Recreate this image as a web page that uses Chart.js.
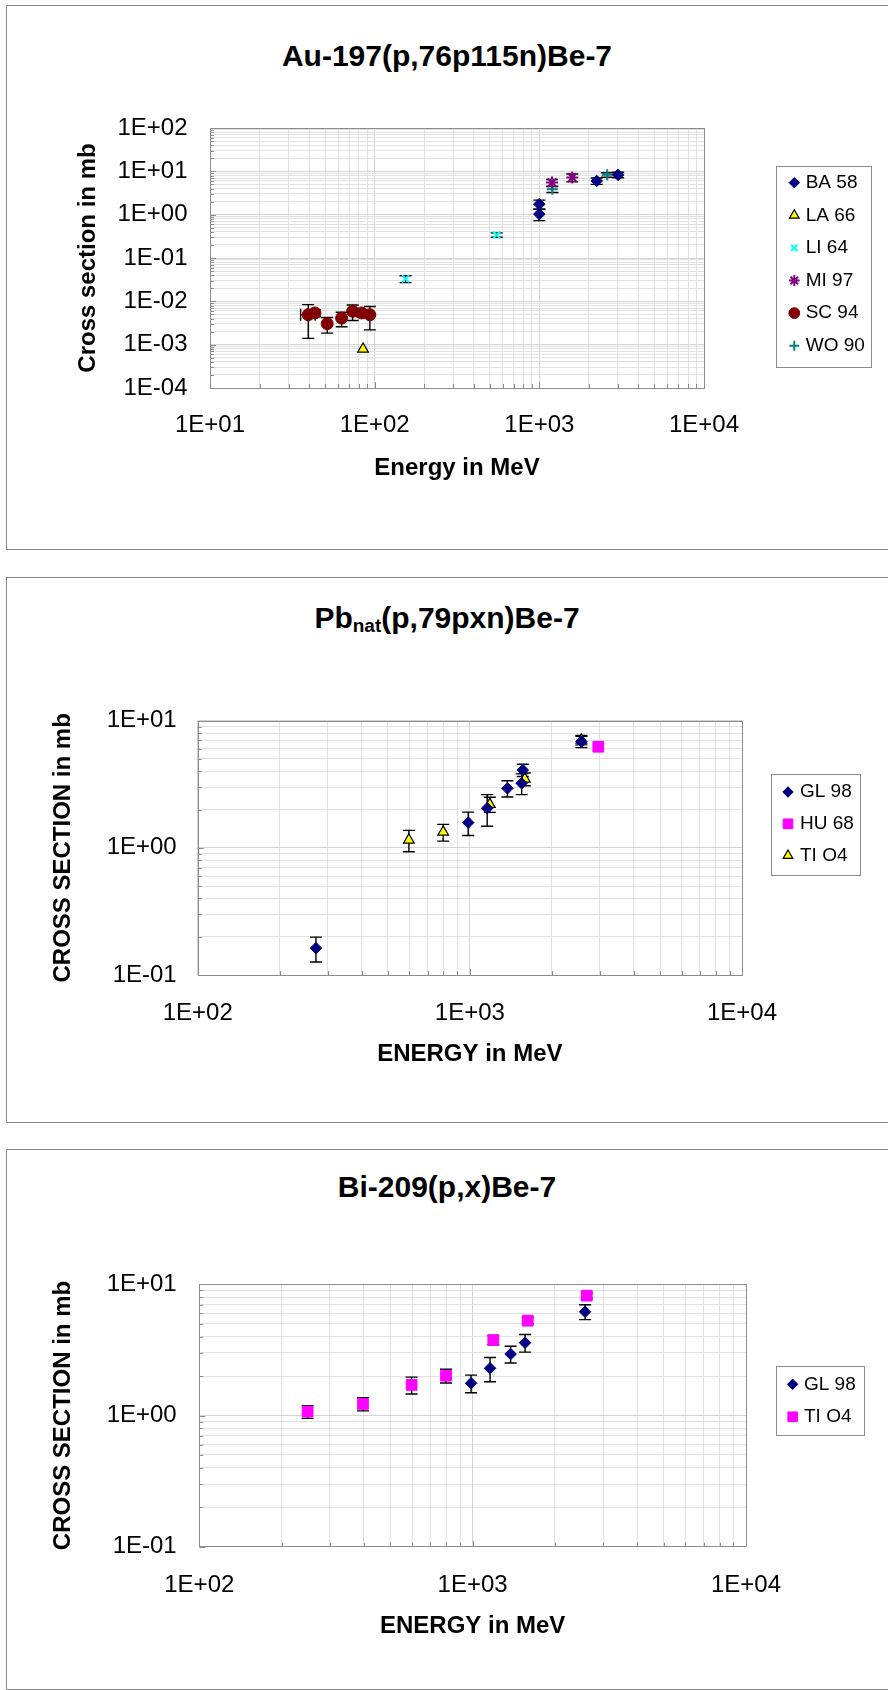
<!DOCTYPE html>
<html>
<head>
<meta charset="utf-8">
<script src="https://cdn.jsdelivr.net/npm/chart.js@4/dist/chart.umd.min.js"></script>
<style>
  body { margin: 0; width: 888px; height: 1690px; position: relative; overflow: hidden; background: #fff; font-family: "Liberation Sans", Arial, sans-serif; }
  .box { position: absolute; left: 6px; width: 900px; border: 1px solid #8a8a8a; box-sizing: border-box; }
  .title { position: absolute; left: 0; width: 894px; text-align: center; font-weight: bold; font-size: 30px; line-height: 30px; color: #000; white-space: nowrap; }
  .title sub { font-size: 19px; line-height: 0; vertical-align: -4px; }
  canvas { position: absolute; left: 0; }
</style>
</head>
<body>
<div class="box" style="top:5px;height:545px"></div>
<div class="box" style="top:577px;height:546px"></div>
<div class="box" style="top:1149px;height:541px"></div>

<div class="title" style="top:41px">Au-197(p,76p115n)Be-7</div>
<div class="title" style="top:603px">Pb<sub>nat</sub>(p,79pxn)Be-7</div>
<div class="title" style="top:1172px">Bi-209(p,x)Be-7</div>

<canvas id="auChart" width="888" height="555" style="top:0;width:888px;height:555px"></canvas>
<canvas id="pbChart" width="888" height="565" style="top:560px;width:888px;height:565px"></canvas>
<canvas id="biChart" width="888" height="560" style="top:1130px;width:888px;height:560px"></canvas>

<script>
// ---- Au-197(p,76p115n)Be-7 ----
const auXTicks = [1e1, 1e2, 1e3, 1e4];
const auXLabels = ['1E+01', '1E+02', '1E+03', '1E+04'];
const auYTicks = [1e-4, 1e-3, 1e-2, 1e-1, 1e0, 1e1, 1e2];
const auYLabels = ['1E-04', '1E-03', '1E-02', '1E-01', '1E+00', '1E+01', '1E+02'];

const ba58Energy = [1000, 1000, 2230, 3010];
const ba58Sigma = [1.75, 1.03, 6.0, 8.3];
const ba58Err = [0.42, 0.3, 1.0, 1.2];

const la66Energy = [85];
const la66Sigma = [0.00079];

const li64Energy = [154, 551];
const li64Sigma = [0.033, 0.34];
const li64Err = [0.006, 0.04];

const mi97Energy = [1194, 1585];
const mi97Sigma = [5.5, 7.2];
const mi97Err = [1.0, 1.5];

const sc94Energy = [39.5, 43.4, 51.5, 63, 73.5, 83.4, 93.5];
const sc94Sigma = [0.0049, 0.0054, 0.00305, 0.0041, 0.0059, 0.0054, 0.0049];
const sc94Err = [0.0035, 0.001, 0.0012, 0.0015, 0.0023, 0.001, 0.0027];
const sc94EnergyErr = [4, 0, 0, 0, 0, 0, 0];

const wo90Energy = [1200, 2583];
const wo90Sigma = [3.86, 8.3];
const wo90Err = [0.6, 1.0];

// ---- Pb-nat(p,79pxn)Be-7 ----
const pbXTicks = [1e2, 1e3, 1e4];
const pbXLabels = ['1E+02', '1E+03', '1E+04'];
const pbYTicks = [1e-1, 1e0, 1e1];
const pbYLabels = ['1E-01', '1E+00', '1E+01'];

const pbGl98Energy = [272, 986, 1158, 1374, 1565, 1550, 2570];
const pbGl98Sigma = [0.1625, 1.58, 2.05, 2.94, 4.09, 3.22, 6.84];
const pbGl98Err = [0.036, 0.33, 0.57, 0.43, 0.45, 0.6, 0.7];

const pbHu68Energy = [2965];
const pbHu68Sigma = [6.24];

const pbTi04Energy = [597, 798, 1184, 1592, 2570];
const pbTi04Sigma = [1.153, 1.33, 2.2, 3.48, 7.05];
const pbTi04Err = [0.22, 0.2, 0.3, 0.4, 0.6];

// ---- Bi-209(p,x)Be-7 ----
const biXTicks = [1e2, 1e3, 1e4];
const biXLabels = ['1E+02', '1E+03', '1E+04'];
const biYTicks = [1e-1, 1e0, 1e1];
const biYLabels = ['1E-01', '1E+00', '1E+01'];

const biGl98Energy = [987, 1158, 1377, 1555, 2578];
const biGl98Sigma = [1.76, 2.29, 2.94, 3.59, 6.18];
const biGl98Err = [0.27, 0.48, 0.43, 0.55, 0.8];

const biTi04Energy = [249, 397, 598, 799, 1190, 1591, 2615];
const biTi04Sigma = [1.07, 1.224, 1.71, 2.01, 3.76, 5.28, 8.19];
const biTi04Err = [0.12, 0.14, 0.25, 0.24, 0.3, 0.3, 0.4];

const FONT = '"Liberation Sans", Arial, sans-serif';
const CAP = 6;

const MARK = {
  diamond: { pointStyle: 'rectRot', radius: 5.8, bg: '#000080', border: '#000080', bw: 1 },
  triangle: { pointStyle: 'triangle', radius: 6.2, bg: '#ffff00', border: '#000000', bw: 1.2 },
  xcross: { pointStyle: 'crossRot', radius: 5, bg: '#00ffff', border: '#00ffff', bw: 2 },
  star: { pointStyle: 'star', radius: 6, bg: '#800080', border: '#800080', bw: 2 },
  circle: { pointStyle: 'circle', radius: 6, bg: '#800000', border: '#800000', bw: 1 },
  plus: { pointStyle: 'cross', radius: 5.5, bg: '#008080', border: '#008080', bw: 2 },
  square: { pointStyle: 'rect', radius: 7.6, bg: '#ff00ff', border: '#ff00ff', bw: 1 }
};

function series(label, xs, ys, errs, mark, xErrs) {
  return {
    label: label,
    data: xs.map((x, i) => ({ x: x, y: ys[i] })),
    yErr: errs || null,
    xErr: xErrs || null,
    pointStyle: mark.pointStyle,
    pointRadius: mark.radius,
    pointHoverRadius: mark.radius,
    backgroundColor: mark.bg,
    borderColor: mark.border,
    pointBackgroundColor: mark.bg,
    pointBorderColor: mark.border,
    pointBorderWidth: mark.bw,
    borderWidth: mark.bw
  };
}

function logTicks(decades) {
  const out = [];
  for (let i = 0; i < decades.length - 1; i++) {
    out.push({ value: decades[i], major: true });
    for (let k = 2; k <= 9; k++) out.push({ value: decades[i] * k, major: false });
  }
  out.push({ value: decades[decades.length - 1], major: true });
  return out;
}

// plot frame + little inward tick marks like the spreadsheet original
const frame = {
  id: 'frame',
  beforeDatasetsDraw(chart) {
    const { ctx, chartArea: a, scales } = chart;
    ctx.save();
    ctx.strokeStyle = '#8c8c8c';
    ctx.lineWidth = 1;
    ctx.beginPath();
    scales.y.ticks.forEach(t => {
      const py = Math.round(scales.y.getPixelForValue(t.value)) + 0.5;
      ctx.moveTo(a.left, py); ctx.lineTo(a.left + (t.major ? 6 : 4), py);
    });
    scales.x.ticks.forEach(t => {
      const px = Math.round(scales.x.getPixelForValue(t.value)) + 0.5;
      ctx.moveTo(px, a.bottom); ctx.lineTo(px, a.bottom - (t.major ? 6 : 4));
    });
    ctx.stroke();
    ctx.strokeRect(Math.round(a.left) + 0.5, Math.round(a.top) + 0.5,
      Math.round(a.right - a.left), Math.round(a.bottom - a.top));
    ctx.restore();
  }
};

const errorBars = {
  id: 'errorBars',
  beforeDatasetsDraw(chart) {
    const { ctx, scales } = chart;
    const xs = scales.x, ys = scales.y;
    ctx.save();
    ctx.strokeStyle = '#000';
    ctx.lineWidth = 1.4;
    chart.data.datasets.forEach(ds => {
      ds.data.forEach((p, i) => {
        const px = xs.getPixelForValue(p.x);
        const py = ys.getPixelForValue(p.y);
        const e = ds.yErr && ds.yErr[i];
        if (e) {
          const t = ys.getPixelForValue(p.y + e);
          const b = ys.getPixelForValue(Math.max(p.y - e, ys.min));
          ctx.beginPath();
          ctx.moveTo(px, t); ctx.lineTo(px, b);
          ctx.moveTo(px - CAP, t); ctx.lineTo(px + CAP, t);
          ctx.moveTo(px - CAP, b); ctx.lineTo(px + CAP, b);
          ctx.stroke();
        }
        const h = ds.xErr && ds.xErr[i];
        if (h) {
          const l = xs.getPixelForValue(p.x - h);
          const r = xs.getPixelForValue(p.x + h);
          ctx.beginPath();
          ctx.moveTo(l, py); ctx.lineTo(r, py);
          ctx.moveTo(l, py - CAP); ctx.lineTo(l, py + CAP);
          ctx.moveTo(r, py - CAP); ctx.lineTo(r, py + CAP);
          ctx.stroke();
        }
      });
    });
    ctx.restore();
  }
};

// boxed legend to the right of the plot
const boxLegend = {
  id: 'boxLegend',
  afterDraw(chart, args, o) {
    const ctx = chart.ctx;
    ctx.save();
    ctx.fillStyle = '#fff';
    ctx.fillRect(o.left, o.top, o.right - o.left, o.bottom - o.top);
    ctx.strokeStyle = '#8c8c8c';
    ctx.lineWidth = 1;
    ctx.strokeRect(Math.round(o.left) + 0.5, Math.round(o.top) + 0.5,
      Math.round(o.right - o.left), Math.round(o.bottom - o.top));
    chart.data.datasets.forEach((ds, i) => {
      const y = o.firstRow + i * o.rowGap;
      ctx.fillStyle = ds.backgroundColor;
      ctx.strokeStyle = ds.borderColor;
      ctx.lineWidth = ds.pointBorderWidth;
      Chart.helpers.drawPoint(ctx, {
        pointStyle: ds.pointStyle, radius: ds.pointRadius * 0.9,
        borderWidth: ds.pointBorderWidth, rotation: 0
      }, o.markerX, y);
      ctx.fillStyle = '#000';
      ctx.font = '19px ' + FONT;
      ctx.textBaseline = 'middle';
      ctx.textAlign = 'left';
      ctx.fillText(ds.label, o.textX, y);
    });
    ctx.restore();
  }
};

function makeChart(id, datasets, g) {
  const gridColor = c => (c.tick && c.tick.major ? '#d4d4d4' : '#e2e2e2');
  return new Chart(document.getElementById(id), {
    type: 'scatter',
    data: { datasets: datasets },
    plugins: [frame, errorBars, boxLegend],
    options: {
      responsive: false,
      animation: false,
      events: [],
      layout: { padding: { left: 0, top: g.top, right: g.right, bottom: g.bottom } },
      plugins: {
        legend: { display: false },
        tooltip: { enabled: false },
        boxLegend: g.legend
      },
      scales: {
        x: {
          type: 'logarithmic',
          min: g.xTicks[0],
          max: g.xTicks[g.xTicks.length - 1],
          afterBuildTicks: s => { s.ticks = logTicks(g.xTicks); },
          afterFit: s => { s.height = 110; },
          border: { display: false },
          grid: { color: gridColor, lineWidth: 1, drawTicks: false },
          ticks: {
            autoSkip: false, minRotation: 0, maxRotation: 0,
            padding: g.xPad, color: '#000',
            font: { family: FONT, size: 24 },
            callback: v => { const i = g.xTicks.indexOf(v); return i >= 0 ? g.xLabels[i] : ''; }
          },
          title: {
            display: true, text: g.xTitle, color: '#000',
            font: { family: FONT, size: 24, weight: 'bold' },
            padding: { top: 0, bottom: g.xTitlePad }
          }
        },
        y: {
          type: 'logarithmic',
          min: g.yTicks[0],
          max: g.yTicks[g.yTicks.length - 1],
          afterBuildTicks: s => { s.ticks = logTicks(g.yTicks); },
          afterFit: s => { s.width = g.left; },
          border: { display: false },
          grid: { color: gridColor, lineWidth: 1, drawTicks: false },
          ticks: {
            autoSkip: false,
            padding: g.yPad, color: '#000',
            font: { family: FONT, size: 24 },
            callback: v => { const i = g.yTicks.indexOf(v); return i >= 0 ? g.yLabels[i] : ''; }
          },
          title: {
            display: true, text: g.yTitle, color: '#000',
            font: { family: FONT, size: 24, weight: 'bold' },
            padding: { top: g.yTitlePad, bottom: 0 }
          }
        }
      }
    }
  });
}

makeChart('auChart', [
  series('BA 58', ba58Energy, ba58Sigma, ba58Err, MARK.diamond),
  series('LA 66', la66Energy, la66Sigma, null, MARK.triangle),
  series('LI 64', li64Energy, li64Sigma, li64Err, MARK.xcross),
  series('MI 97', mi97Energy, mi97Sigma, mi97Err, MARK.star),
  series('SC 94', sc94Energy, sc94Sigma, sc94Err, MARK.circle, sc94EnergyErr),
  series('WO 90', wo90Energy, wo90Sigma, wo90Err, MARK.plus)
], {
  xTicks: auXTicks, xLabels: auXLabels, yTicks: auYTicks, yLabels: auYLabels,
  xTitle: 'Energy in MeV', yTitle: 'Cross section in mb',
  left: 210, top: 128, right: 184, bottom: 57,
  xPad: 22.6, yPad: 22.5, xTitlePad: 15.6, yTitlePad: 73.6,
  legend: { left: 776, top: 166, right: 871, bottom: 367, firstRow: 182.7, rowGap: 32.6, markerX: 794.3, textX: 805.7 }
});

makeChart('pbChart', [
  series('GL 98', pbGl98Energy, pbGl98Sigma, pbGl98Err, MARK.diamond),
  series('HU 68', pbHu68Energy, pbHu68Sigma, null, MARK.square),
  series('TI O4', pbTi04Energy, pbTi04Sigma, pbTi04Err, MARK.triangle)
], {
  xTicks: pbXTicks, xLabels: pbXLabels, yTicks: pbYTicks, yLabels: pbYLabels,
  xTitle: 'ENERGY in MeV', yTitle: 'CROSS SECTION in mb',
  left: 197.7, top: 160.7, right: 146, bottom: 40,
  xPad: 23.6, yPad: 21, xTitlePad: 16, yTitlePad: 49,
  legend: { left: 771, top: 213.6, right: 859.6, bottom: 314.3, firstRow: 232, rowGap: 31.8, markerX: 788, textX: 800 }
});

makeChart('biChart', [
  series('GL 98', biGl98Energy, biGl98Sigma, biGl98Err, MARK.diamond),
  series('TI O4', biTi04Energy, biTi04Sigma, biTi04Err, MARK.square)
], {
  xTicks: biXTicks, xLabels: biXLabels, yTicks: biYTicks, yLabels: biYLabels,
  xTitle: 'ENERGY in MeV', yTitle: 'CROSS SECTION in mb',
  left: 199.3, top: 154.3, right: 142, bottom: 33.3,
  xPad: 24.3, yPad: 22.6, xTitlePad: 16.3, yTitlePad: 49,
  legend: { left: 775.8, top: 236.4, right: 863.5, bottom: 305.4, firstRow: 254.3, rowGap: 32.5, markerX: 792.7, textX: 804 }
});
</script>
</body>
</html>
